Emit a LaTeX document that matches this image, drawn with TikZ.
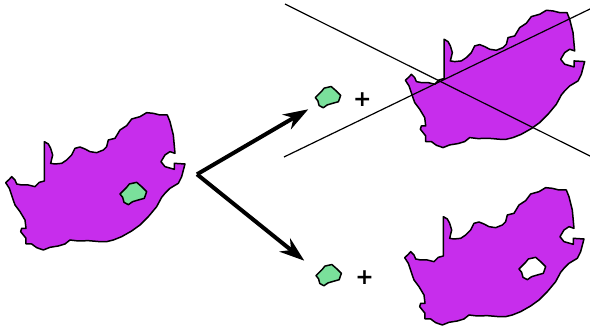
\documentclass[tikz,border=0pt]{standalone}
\usepackage{fontspec}
\newfontfamily\plusfont{DejaVu Sans}
\usetikzlibrary{arrows.meta}
\definecolor{landpurple}{RGB}{199,45,236}
\definecolor{landgreen}{RGB}{122,224,155}
\newcommand{\landpath}{(133,125)--(145,132)--(152,145)--(158,165)--(152,190)--(165,192)--(185,190)--(200,180)--(215,165)--(225,145)--(240,141)--(255,147)--(270,155)--(290,158)--(310,150)--(320,140)--(325,120)--(345,115)--(360,90)--(380,77)--(395,57)--(420,50)--(440,38)--(460,40)--(480,45)--(502,45)--(510,65)--(520,105)--(525,160)--(510,155)--(495,165)--(483,185)--(495,200)--(523,208)--(523,190)--(555,192)--(545,230)--(535,250)--(510,265)--(495,280)--(485,292)--(470,320)--(445,350)--(420,375)--(395,393)--(365,410)--(340,420)--(320,425)--(300,425)--(265,422)--(235,423)--(210,420)--(195,432)--(175,438)--(150,442)--(130,450)--(110,443)--(95,432)--(78,432)--(78,415)--(62,395)--(65,385)--(78,385)--(75,360)--(60,335)--(45,315)--(38,295)--(28,265)--(17,248)--(28,238)--(35,230)--(45,240)--(50,252)--(65,255)--(85,255)--(105,260)--(118,247)--(133,243)--cycle}
\newcommand{\islandpath}{(360,282)--(380,262)--(388,252)--(410,247)--(425,260)--(440,275)--(433,295)--(415,300)--(398,305)--(385,314)--(372,307)--(368,292)--cycle}
\begin{document}
\begin{tikzpicture}[x=1pt,y=-1pt,land/.style={draw=black,fill=landpurple,line width=1.5pt,line join=round},island/.style={draw=black,fill=landgreen,line width=1.5pt,line join=round},hole/.style={draw=black,fill=white,line width=1.5pt,line join=round},cut line/.style={draw=black,line width=1.2pt},big arrow/.style={draw=black,line width=4pt,-{Stealth[length=25pt,width=17pt,inset=8pt]}},plus sign/.style={font=\plusfont\bfseries\fontsize{22}{22}\selectfont,inner sep=0pt}]
\useasboundingbox (0,0) rectangle (590,329);
\begin{scope}[shift={(0,100)},scale=.3333]
\draw[land] \landpath;%whole
\draw[island] \islandpath;
\end{scope}
\begin{scope}[shift={(399.7,-2.4)},scale=.3333]
\draw[land] \landpath;%top
\end{scope}
\begin{scope}[shift={(399,175)},scale=.3333]
\draw[land] \landpath;%bottom
\draw[hole] \islandpath;
\end{scope}
\begin{scope}[shift={(201.3,8.3)},scale=.3167]
\draw[island] \islandpath;
\end{scope}
\begin{scope}[shift={(202,186.3)},scale=.3167]
\draw[island] \islandpath;
\end{scope}
\coordinate (c1) at (284,157);
\coordinate (c2) at (590,9);
\coordinate (c3) at (285,4);
\coordinate (c4) at (590,156);
\draw[cut line] (c1) -- (c2);
\draw[cut line] (c3) -- (c4);
\coordinate (v0) at (197,174.3);
\coordinate (v1) at (308.3,109.3);
\coordinate (v2) at (304.3,260.7);
\draw[big arrow] (v0) -- (v1);
\draw[big arrow] (v0) -- (v2);
\node[plus sign] (p1) at (362.3,99.3) {+};
\node[plus sign] (p2) at (364.7,277.3) {+};
\end{tikzpicture}
\end{document}
